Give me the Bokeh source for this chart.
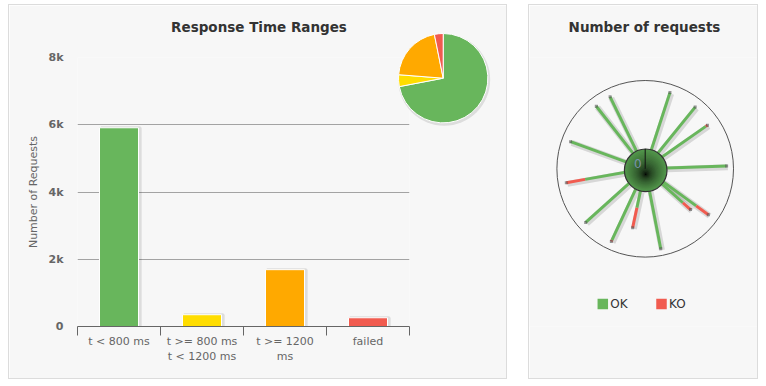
import math
from bokeh.plotting import figure
from bokeh.models import Range1d, FixedTicker
from bokeh.layouts import row
from bokeh.embed import file_html
from bokeh.resources import INLINE

FONT = "DejaVu Sans"

# ---------------- data ----------------
categories = ["t < 800 ms", "t >= 800 ms\nt < 1200 ms", "t >= 1200\nms", "failed"]
counts = [5910, 350, 1690, 260]
bar_colors = ["#68b65c", "#ffdd00", "#ffa900", "#f15b4f"]
y_ticks = [0, 2000, 4000, 6000, 8000]
y_tick_labels = ["0", "2k", "4k", "6k", "8k"]

req_angles = [18, 39, 55, 88, 126, 132, 169, 192, 205, 228, 260, 290, 322, 334]
req_ok = [88, 87, 79, 90, 63, 45, 90, 29, 86, 88, 60, 87, 87, 88]
req_ko = [0, 0, 3, 0, 22, 15, 0, 30, 2, 0, 28, 0, 0, 0]
radial_max = 100
series_names = ["OK", "KO"]
series_colors = ["#68b65c", "#f15b4f"]

BG = "#f7f7f7"
BORDER = "1px solid #dcdcdc"

# ---------------- left: bar chart ----------------
W1, H = 499, 375
FL, FR, FT, FB = 68, 99, 52, 54
n = len(categories)

p = figure(width=W1, height=H, output_backend="svg", toolbar_location=None,
           x_range=Range1d(0, n), y_range=Range1d(0, y_ticks[-1]),
           min_border_left=FL, min_border_right=FR, min_border_top=FT, min_border_bottom=FB,
           background_fill_color=BG, border_fill_color=BG, outline_line_color=None)
p.styles = {"border": BORDER}

xs = [i + 0.5 for i in range(n)]
ax = p.xaxis[0]
ax.ticker = FixedTicker(ticks=xs, minor_ticks=list(range(n + 1)))
ax.major_label_overrides = {x: c for x, c in zip(xs, categories)}
ax.major_tick_line_color = None
ax.major_tick_out = 0
ax.major_tick_in = 0
ax.minor_tick_line_color = "#666666"
ax.minor_tick_out = 9
ax.minor_tick_in = 0
ax.axis_line_color = "#666666"
ax.major_label_text_font = FONT
ax.major_label_text_font_size = "11px"
ax.major_label_text_color = "#666666"
ax.major_label_standoff = -1

ay = p.yaxis[0]
ay.ticker = FixedTicker(ticks=y_ticks)
ay.major_label_overrides = {t: l for t, l in zip(y_ticks, y_tick_labels)}
ay.axis_line_color = None
ay.major_tick_line_color = None
ay.minor_tick_line_color = None
ay.major_tick_out = 0
ay.major_tick_in = 0
ay.minor_tick_out = 0
ay.major_label_standoff = 14
ay.major_label_text_font = FONT
ay.major_label_text_font_size = "11px"
ay.major_label_text_font_style = "bold"
ay.major_label_text_color = "#666666"
ay.axis_label = "Number of Requests"
ay.axis_label_text_font = FONT
ay.axis_label_text_font_size = "11px"
ay.axis_label_text_font_style = "normal"
ay.axis_label_text_color = "#666666"
ay.axis_label_standoff = 6

p.xgrid.visible = False
p.ygrid.ticker = FixedTicker(ticks=y_ticks)
p.ygrid.grid_line_color = "#a3a3a3"

# bar shadows + bars
p.vbar(x=[x + 0.02 for x in xs], top=counts, bottom=0, width=0.47,
       fill_color=None, line_color="#000000", line_alpha=0.10, line_width=3)
p.vbar(x=xs, top=counts, width=0.47, fill_color=bar_colors,
       line_color="white", line_width=1)

# pixel ranges (frame-relative, y up) for inset pie and title
fw, fh = W1 - FL - FR, H - FT - FB
p.extra_x_ranges = {"px": Range1d(0, fw)}
p.extra_y_ranges = {"px": Range1d(0, fh)}
total = sum(counts)
starts, ends = [], []
a = math.pi / 2
for c in counts:
    starts.append(a)
    a = a - 2 * math.pi * c / total
    ends.append(a)
pcx, pcy = 365.7, 248.3
p.circle(x=[pcx + 1], y=[pcy - 1.5], radius=46, radius_units="screen",
         fill_color="#000000", fill_alpha=0.10, line_color=None,
         x_range_name="px", y_range_name="px", level="overlay")
p.wedge(x=pcx, y=pcy, radius=44.7, radius_units="screen",
        start_angle=starts, end_angle=ends, direction="clock",
        fill_color=bar_colors, line_color="white", line_width=1,
        x_range_name="px", y_range_name="px", level="overlay")

p.text(x=[181.5], y=[299.3], text=["Response Time Ranges"], text_font={"value": FONT},
       text_font_size="13.5px", text_font_style="bold", text_color="#333333",
       text_align="center", text_baseline="middle",
       x_range_name="px", y_range_name="px", level="overlay")

# ---------------- right: radial requests chart ----------------
W2 = 230
p2 = figure(width=W2, height=H, output_backend="svg", toolbar_location=None,
            x_range=Range1d(0, W2), y_range=Range1d(FB, H - FT),
            min_border_left=0, min_border_right=0, min_border_top=FT, min_border_bottom=FB,
            x_axis_type=None, y_axis_type=None,
            background_fill_color=BG, border_fill_color=BG, outline_line_color=None)
p2.styles = {"border": BORDER}
p2.grid.visible = False

# coordinates here: x = px from left, y = px from canvas bottom
cx, cy = 115.7, 211.7
R_in, R_out = 20.0, 88.3

def rad(v):
    return R_in + v / radial_max * (R_out - R_in)

th = [math.radians(a) for a in req_angles]
r_ok = [rad(v) for v in req_ok]
r_tot = [rad(o + k) for o, k in zip(req_ok, req_ko)]

p2.circle(x=[cx], y=[cy], radius=R_out, fill_color=None, line_color="#555555", line_width=1)

# shadows
p2.segment(x0=[cx + 1.2] * len(th), y0=[cy - 1.2] * len(th),
           x1=[cx + 1.2 + r * math.sin(t) for r, t in zip(r_tot, th)],
           y1=[cy - 1.2 + r * math.cos(t) for r, t in zip(r_tot, th)],
           line_color="#000000", line_alpha=0.13, line_width=6)
# OK part
p2.segment(x0=[cx] * len(th), y0=[cy] * len(th),
           x1=[cx + r * math.sin(t) for r, t in zip(r_ok, th)],
           y1=[cy + r * math.cos(t) for r, t in zip(r_ok, th)],
           line_color=series_colors[0], line_width=3)
# KO part
p2.segment(x0=[cx + r * math.sin(t) for r, t in zip(r_ok, th)],
           y0=[cy + r * math.cos(t) for r, t in zip(r_ok, th)],
           x1=[cx + r * math.sin(t) for r, t in zip(r_tot, th)],
           y1=[cy + r * math.cos(t) for r, t in zip(r_tot, th)],
           line_color=series_colors[1], line_width=3)
p2.scatter(x=[cx + r * math.sin(t) for r, t in zip(r_tot, th)],
           y=[cy + r * math.cos(t) for r, t in zip(r_tot, th)],
           marker="square", size=3, fill_color="#555555", fill_alpha=0.6, line_color=None)

# inner gradient hub
hcx, hcy = cx + 0.5, cy - 1.5
steps = 18
hub_r, hub_x, hub_y, hub_c = [], [], [], []
c0 = (0x52, 0x96, 0x4b)
for i in range(steps):
    f = i / (steps - 1)
    rr = 21.3 * (1 - f) + 0.8 * f
    k = (1 - f) ** 0.55
    col = tuple(int(round(c * k)) for c in c0)
    hub_r.append(rr)
    hub_x.append(hcx)
    hub_y.append(hcy - 4.0 * f)
    hub_c.append("#%02x%02x%02x" % col)
p2.circle(x=hub_x, y=hub_y, radius=hub_r, fill_color=hub_c, line_color=None)
p2.circle(x=[hcx], y=[hcy], radius=21.3, fill_color=None, line_color="#333333", line_width=1.2)
p2.segment(x0=[cx], y0=[cy], x1=[cx], y1=[cy + R_in], line_color="#111111", line_width=1)
p2.text(x=[cx - 7.4], y=[cy + 5], text=["0"], text_font={"value": FONT},
        text_font_size="12px", text_color="#7a92aa", text_align="center", text_baseline="middle")

p2.text(x=[115.0], y=[353.3], text=["Number of requests"], text_font={"value": FONT},
        text_font_size="13.5px", text_font_style="bold", text_color="#333333",
        text_align="center", text_baseline="middle", level="overlay")

# legend
lx = [73.3 + i * 58.7 for i in range(len(series_names))]
p2.rect(x=lx, y=[76.5] * len(lx), width=10.5, height=10.5, fill_color=series_colors, line_color=None)
p2.text(x=[x + 7.5 for x in lx], y=[76.5] * len(lx), text=series_names, text_font={"value": FONT},
        text_font_size="12px", text_color="#333333", text_align="left", text_baseline="middle")

layout = row(p, p2, spacing=21)
layout.styles = {"margin-left": "8px", "margin-top": "4px"}

open("out.html", "w").write(file_html(layout, INLINE))
